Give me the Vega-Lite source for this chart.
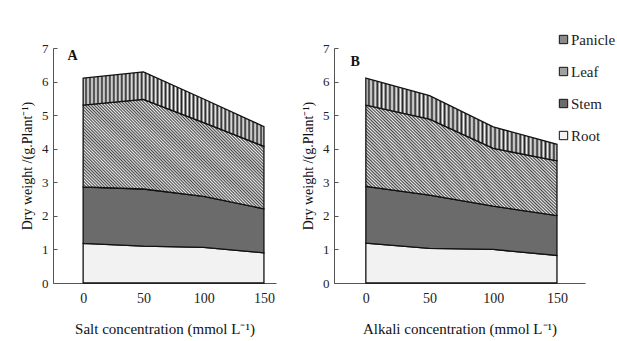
{
  "$schema": "https://vega.github.io/schema/vega-lite/v6.json",
  "background": "white",
  "padding": {"left": 20, "top": 32, "right": 2, "bottom": 2},
  "spacing": 25,
  "config": {
    "view": {"stroke": null},
    "font": "Liberation Serif",
    "axis": {"grid": false, "labelFont": "Liberation Serif", "titleFont": "Liberation Serif", "labelColor": "#222", "titleColor": "#111", "titleFontWeight": "normal", "domainColor": "#555", "tickColor": "#555", "labelOverlap": false},
    "axisY": {"tickSize": -4, "labelPadding": 9, "titlePadding": 7, "labelFontSize": 13, "titleFontSize": 14, "labelFont": "Liberation Serif"},
    "axisX": {"ticks": false, "labelPadding": 8, "titlePadding": 16, "labelFontSize": 14, "titleFontSize": 15, "labelFont": "Liberation Serif"},
    "legend": {"labelFont": "Liberation Serif", "labelFontSize": 15}
  },
  "datasets": {
    "salt": [
      {"c": 0, "part": "Root", "w": 1.18, "o": 1},
      {"c": 0, "part": "Stem", "w": 1.68, "o": 2},
      {"c": 0, "part": "Leaf", "w": 2.44, "o": 3},
      {"c": 0, "part": "Panicle", "w": 0.80, "o": 4},
      {"c": 50, "part": "Root", "w": 1.10, "o": 1},
      {"c": 50, "part": "Stem", "w": 1.70, "o": 2},
      {"c": 50, "part": "Leaf", "w": 2.67, "o": 3},
      {"c": 50, "part": "Panicle", "w": 0.82, "o": 4},
      {"c": 100, "part": "Root", "w": 1.06, "o": 1},
      {"c": 100, "part": "Stem", "w": 1.52, "o": 2},
      {"c": 100, "part": "Leaf", "w": 2.20, "o": 3},
      {"c": 100, "part": "Panicle", "w": 0.70, "o": 4},
      {"c": 150, "part": "Root", "w": 0.90, "o": 1},
      {"c": 150, "part": "Stem", "w": 1.31, "o": 2},
      {"c": 150, "part": "Leaf", "w": 1.86, "o": 3},
      {"c": 150, "part": "Panicle", "w": 0.59, "o": 4}
    ],
    "alkali": [
      {"c": 0, "part": "Root", "w": 1.19, "o": 1},
      {"c": 0, "part": "Stem", "w": 1.69, "o": 2},
      {"c": 0, "part": "Leaf", "w": 2.42, "o": 3},
      {"c": 0, "part": "Panicle", "w": 0.80, "o": 4},
      {"c": 50, "part": "Root", "w": 1.03, "o": 1},
      {"c": 50, "part": "Stem", "w": 1.59, "o": 2},
      {"c": 50, "part": "Leaf", "w": 2.26, "o": 3},
      {"c": 50, "part": "Panicle", "w": 0.70, "o": 4},
      {"c": 100, "part": "Root", "w": 1.00, "o": 1},
      {"c": 100, "part": "Stem", "w": 1.29, "o": 2},
      {"c": 100, "part": "Leaf", "w": 1.72, "o": 3},
      {"c": 100, "part": "Panicle", "w": 0.64, "o": 4},
      {"c": 150, "part": "Root", "w": 0.82, "o": 1},
      {"c": 150, "part": "Stem", "w": 1.19, "o": 2},
      {"c": 150, "part": "Leaf", "w": 1.63, "o": 3},
      {"c": 150, "part": "Panicle", "w": 0.49, "o": 4}
    ]
  },
  "hconcat": [
    {
      "width": 223,
      "height": 235,
      "data": {"name": "salt"},
      "layer": [
        {
          "mark": {"type": "area", "stroke": "#111", "strokeWidth": 1.3, "interpolate": "linear"},
          "encoding": {
            "x": {"field": "c", "type": "quantitative", "scale": {"domain": [-25, 160], "nice": false, "zero": false}, "axis": {"values": [0, 50, 100, 150], "labelFont": "Liberation Serif", "title": "Salt concentration (mmol L⁻¹)"}},
            "y": {"field": "w", "type": "quantitative", "stack": "zero", "scale": {"domain": [0, 7], "nice": false}, "axis": {"values": [0, 1, 2, 3, 4, 5, 6, 7], "tickCount": 8, "labelOverlap": false, "labelBound": false, "labelFont": "Liberation Serif", "title": "Dry weight /(g.Plant⁻¹)"}},
            "order": {"field": "o", "type": "quantitative"},
            "detail": {"field": "part", "type": "nominal"},
            "fill": {
              "condition": [
                {"test": "datum.part === 'Panicle'", "value": {"gradient": "linear", "x1": -0.05, "y1": 0, "x2": 1.05, "y2": 0, "stops": [
                  {"offset":0,"color":"#222"},{"offset":0.01,"color":"#f5f5f5"},{"offset":0.02,"color":"#222"},{"offset":0.03,"color":"#f5f5f5"},{"offset":0.04,"color":"#222"},{"offset":0.05,"color":"#f5f5f5"},{"offset":0.06,"color":"#222"},{"offset":0.07,"color":"#f5f5f5"},{"offset":0.08,"color":"#222"},{"offset":0.09,"color":"#f5f5f5"},
                  {"offset":0.1,"color":"#222"},{"offset":0.11,"color":"#f5f5f5"},{"offset":0.12,"color":"#222"},{"offset":0.13,"color":"#f5f5f5"},{"offset":0.14,"color":"#222"},{"offset":0.15,"color":"#f5f5f5"},{"offset":0.16,"color":"#222"},{"offset":0.17,"color":"#f5f5f5"},{"offset":0.18,"color":"#222"},{"offset":0.19,"color":"#f5f5f5"},
                  {"offset":0.2,"color":"#222"},{"offset":0.21,"color":"#f5f5f5"},{"offset":0.22,"color":"#222"},{"offset":0.23,"color":"#f5f5f5"},{"offset":0.24,"color":"#222"},{"offset":0.25,"color":"#f5f5f5"},{"offset":0.26,"color":"#222"},{"offset":0.27,"color":"#f5f5f5"},{"offset":0.28,"color":"#222"},{"offset":0.29,"color":"#f5f5f5"},
                  {"offset":0.3,"color":"#222"},{"offset":0.31,"color":"#f5f5f5"},{"offset":0.32,"color":"#222"},{"offset":0.33,"color":"#f5f5f5"},{"offset":0.34,"color":"#222"},{"offset":0.35,"color":"#f5f5f5"},{"offset":0.36,"color":"#222"},{"offset":0.37,"color":"#f5f5f5"},{"offset":0.38,"color":"#222"},{"offset":0.39,"color":"#f5f5f5"},
                  {"offset":0.4,"color":"#222"},{"offset":0.41,"color":"#f5f5f5"},{"offset":0.42,"color":"#222"},{"offset":0.43,"color":"#f5f5f5"},{"offset":0.44,"color":"#222"},{"offset":0.45,"color":"#f5f5f5"},{"offset":0.46,"color":"#222"},{"offset":0.47,"color":"#f5f5f5"},{"offset":0.48,"color":"#222"},{"offset":0.49,"color":"#f5f5f5"},
                  {"offset":0.5,"color":"#222"},{"offset":0.51,"color":"#f5f5f5"},{"offset":0.52,"color":"#222"},{"offset":0.53,"color":"#f5f5f5"},{"offset":0.54,"color":"#222"},{"offset":0.55,"color":"#f5f5f5"},{"offset":0.56,"color":"#222"},{"offset":0.57,"color":"#f5f5f5"},{"offset":0.58,"color":"#222"},{"offset":0.59,"color":"#f5f5f5"},
                  {"offset":0.6,"color":"#222"},{"offset":0.61,"color":"#f5f5f5"},{"offset":0.62,"color":"#222"},{"offset":0.63,"color":"#f5f5f5"},{"offset":0.64,"color":"#222"},{"offset":0.65,"color":"#f5f5f5"},{"offset":0.66,"color":"#222"},{"offset":0.67,"color":"#f5f5f5"},{"offset":0.68,"color":"#222"},{"offset":0.69,"color":"#f5f5f5"},
                  {"offset":0.7,"color":"#222"},{"offset":0.71,"color":"#f5f5f5"},{"offset":0.72,"color":"#222"},{"offset":0.73,"color":"#f5f5f5"},{"offset":0.74,"color":"#222"},{"offset":0.75,"color":"#f5f5f5"},{"offset":0.76,"color":"#222"},{"offset":0.77,"color":"#f5f5f5"},{"offset":0.78,"color":"#222"},{"offset":0.79,"color":"#f5f5f5"},
                  {"offset":0.8,"color":"#222"},{"offset":0.81,"color":"#f5f5f5"},{"offset":0.82,"color":"#222"},{"offset":0.83,"color":"#f5f5f5"},{"offset":0.84,"color":"#222"},{"offset":0.85,"color":"#f5f5f5"},{"offset":0.86,"color":"#222"},{"offset":0.87,"color":"#f5f5f5"},{"offset":0.88,"color":"#222"},{"offset":0.89,"color":"#f5f5f5"},
                  {"offset":0.9,"color":"#222"},{"offset":0.91,"color":"#f5f5f5"},{"offset":0.92,"color":"#222"},{"offset":0.93,"color":"#f5f5f5"},{"offset":0.94,"color":"#222"},{"offset":0.95,"color":"#f5f5f5"},{"offset":0.96,"color":"#222"},{"offset":0.97,"color":"#f5f5f5"},{"offset":0.98,"color":"#222"},{"offset":0.99,"color":"#f5f5f5"},{"offset":1,"color":"#222"}
                ]}},
                {"test": "datum.part === 'Leaf'", "value": {"gradient": "linear", "x1": -0.125, "y1": 0.875, "x2": 1.125, "y2": 0.125, "stops": [
                  {"offset":0,"color":"#444"},{"offset":0.005,"color":"#eee"},{"offset":0.01,"color":"#444"},{"offset":0.015,"color":"#eee"},{"offset":0.02,"color":"#444"},{"offset":0.025,"color":"#eee"},{"offset":0.03,"color":"#444"},{"offset":0.035,"color":"#eee"},{"offset":0.04,"color":"#444"},{"offset":0.045,"color":"#eee"},
                  {"offset":0.05,"color":"#444"},{"offset":0.055,"color":"#eee"},{"offset":0.06,"color":"#444"},{"offset":0.065,"color":"#eee"},{"offset":0.07,"color":"#444"},{"offset":0.075,"color":"#eee"},{"offset":0.08,"color":"#444"},{"offset":0.085,"color":"#eee"},{"offset":0.09,"color":"#444"},{"offset":0.095,"color":"#eee"},
                  {"offset":0.1,"color":"#444"},{"offset":0.105,"color":"#eee"},{"offset":0.11,"color":"#444"},{"offset":0.115,"color":"#eee"},{"offset":0.12,"color":"#444"},{"offset":0.125,"color":"#eee"},{"offset":0.13,"color":"#444"},{"offset":0.135,"color":"#eee"},{"offset":0.14,"color":"#444"},{"offset":0.145,"color":"#eee"},
                  {"offset":0.15,"color":"#444"},{"offset":0.155,"color":"#eee"},{"offset":0.16,"color":"#444"},{"offset":0.165,"color":"#eee"},{"offset":0.17,"color":"#444"},{"offset":0.175,"color":"#eee"},{"offset":0.18,"color":"#444"},{"offset":0.185,"color":"#eee"},{"offset":0.19,"color":"#444"},{"offset":0.195,"color":"#eee"},
                  {"offset":0.2,"color":"#444"},{"offset":0.205,"color":"#eee"},{"offset":0.21,"color":"#444"},{"offset":0.215,"color":"#eee"},{"offset":0.22,"color":"#444"},{"offset":0.225,"color":"#eee"},{"offset":0.23,"color":"#444"},{"offset":0.235,"color":"#eee"},{"offset":0.24,"color":"#444"},{"offset":0.245,"color":"#eee"},
                  {"offset":0.25,"color":"#444"},{"offset":0.255,"color":"#eee"},{"offset":0.26,"color":"#444"},{"offset":0.265,"color":"#eee"},{"offset":0.27,"color":"#444"},{"offset":0.275,"color":"#eee"},{"offset":0.28,"color":"#444"},{"offset":0.285,"color":"#eee"},{"offset":0.29,"color":"#444"},{"offset":0.295,"color":"#eee"},
                  {"offset":0.3,"color":"#444"},{"offset":0.305,"color":"#eee"},{"offset":0.31,"color":"#444"},{"offset":0.315,"color":"#eee"},{"offset":0.32,"color":"#444"},{"offset":0.325,"color":"#eee"},{"offset":0.33,"color":"#444"},{"offset":0.335,"color":"#eee"},{"offset":0.34,"color":"#444"},{"offset":0.345,"color":"#eee"},
                  {"offset":0.35,"color":"#444"},{"offset":0.355,"color":"#eee"},{"offset":0.36,"color":"#444"},{"offset":0.365,"color":"#eee"},{"offset":0.37,"color":"#444"},{"offset":0.375,"color":"#eee"},{"offset":0.38,"color":"#444"},{"offset":0.385,"color":"#eee"},{"offset":0.39,"color":"#444"},{"offset":0.395,"color":"#eee"},
                  {"offset":0.4,"color":"#444"},{"offset":0.405,"color":"#eee"},{"offset":0.41,"color":"#444"},{"offset":0.415,"color":"#eee"},{"offset":0.42,"color":"#444"},{"offset":0.425,"color":"#eee"},{"offset":0.43,"color":"#444"},{"offset":0.435,"color":"#eee"},{"offset":0.44,"color":"#444"},{"offset":0.445,"color":"#eee"},
                  {"offset":0.45,"color":"#444"},{"offset":0.455,"color":"#eee"},{"offset":0.46,"color":"#444"},{"offset":0.465,"color":"#eee"},{"offset":0.47,"color":"#444"},{"offset":0.475,"color":"#eee"},{"offset":0.48,"color":"#444"},{"offset":0.485,"color":"#eee"},{"offset":0.49,"color":"#444"},{"offset":0.495,"color":"#eee"},
                  {"offset":0.5,"color":"#444"},{"offset":0.505,"color":"#eee"},{"offset":0.51,"color":"#444"},{"offset":0.515,"color":"#eee"},{"offset":0.52,"color":"#444"},{"offset":0.525,"color":"#eee"},{"offset":0.53,"color":"#444"},{"offset":0.535,"color":"#eee"},{"offset":0.54,"color":"#444"},{"offset":0.545,"color":"#eee"},
                  {"offset":0.55,"color":"#444"},{"offset":0.555,"color":"#eee"},{"offset":0.56,"color":"#444"},{"offset":0.565,"color":"#eee"},{"offset":0.57,"color":"#444"},{"offset":0.575,"color":"#eee"},{"offset":0.58,"color":"#444"},{"offset":0.585,"color":"#eee"},{"offset":0.59,"color":"#444"},{"offset":0.595,"color":"#eee"},
                  {"offset":0.6,"color":"#444"},{"offset":0.605,"color":"#eee"},{"offset":0.61,"color":"#444"},{"offset":0.615,"color":"#eee"},{"offset":0.62,"color":"#444"},{"offset":0.625,"color":"#eee"},{"offset":0.63,"color":"#444"},{"offset":0.635,"color":"#eee"},{"offset":0.64,"color":"#444"},{"offset":0.645,"color":"#eee"},
                  {"offset":0.65,"color":"#444"},{"offset":0.655,"color":"#eee"},{"offset":0.66,"color":"#444"},{"offset":0.665,"color":"#eee"},{"offset":0.67,"color":"#444"},{"offset":0.675,"color":"#eee"},{"offset":0.68,"color":"#444"},{"offset":0.685,"color":"#eee"},{"offset":0.69,"color":"#444"},{"offset":0.695,"color":"#eee"},
                  {"offset":0.7,"color":"#444"},{"offset":0.705,"color":"#eee"},{"offset":0.71,"color":"#444"},{"offset":0.715,"color":"#eee"},{"offset":0.72,"color":"#444"},{"offset":0.725,"color":"#eee"},{"offset":0.73,"color":"#444"},{"offset":0.735,"color":"#eee"},{"offset":0.74,"color":"#444"},{"offset":0.745,"color":"#eee"},
                  {"offset":0.75,"color":"#444"},{"offset":0.755,"color":"#eee"},{"offset":0.76,"color":"#444"},{"offset":0.765,"color":"#eee"},{"offset":0.77,"color":"#444"},{"offset":0.775,"color":"#eee"},{"offset":0.78,"color":"#444"},{"offset":0.785,"color":"#eee"},{"offset":0.79,"color":"#444"},{"offset":0.795,"color":"#eee"},
                  {"offset":0.8,"color":"#444"},{"offset":0.805,"color":"#eee"},{"offset":0.81,"color":"#444"},{"offset":0.815,"color":"#eee"},{"offset":0.82,"color":"#444"},{"offset":0.825,"color":"#eee"},{"offset":0.83,"color":"#444"},{"offset":0.835,"color":"#eee"},{"offset":0.84,"color":"#444"},{"offset":0.845,"color":"#eee"},
                  {"offset":0.85,"color":"#444"},{"offset":0.855,"color":"#eee"},{"offset":0.86,"color":"#444"},{"offset":0.865,"color":"#eee"},{"offset":0.87,"color":"#444"},{"offset":0.875,"color":"#eee"},{"offset":0.88,"color":"#444"},{"offset":0.885,"color":"#eee"},{"offset":0.89,"color":"#444"},{"offset":0.895,"color":"#eee"},
                  {"offset":0.9,"color":"#444"},{"offset":0.905,"color":"#eee"},{"offset":0.91,"color":"#444"},{"offset":0.915,"color":"#eee"},{"offset":0.92,"color":"#444"},{"offset":0.925,"color":"#eee"},{"offset":0.93,"color":"#444"},{"offset":0.935,"color":"#eee"},{"offset":0.94,"color":"#444"},{"offset":0.945,"color":"#eee"},
                  {"offset":0.95,"color":"#444"},{"offset":0.955,"color":"#eee"},{"offset":0.96,"color":"#444"},{"offset":0.965,"color":"#eee"},{"offset":0.97,"color":"#444"},{"offset":0.975,"color":"#eee"},{"offset":0.98,"color":"#444"},{"offset":0.985,"color":"#eee"},{"offset":0.99,"color":"#444"},{"offset":0.995,"color":"#eee"},{"offset":1,"color":"#444"}
                ]}},
                {"test": "datum.part === 'Stem'", "value": "#6b6b6b"}
              ],
              "value": "#f2f2f2"
            }
          }
        },
        {
          "data": {"values": [{}]},
          "mark": {"type": "text", "font": "Liberation Serif", "fontWeight": "bold", "fontSize": 14, "align": "left", "baseline": "middle", "color": "#111"},
          "encoding": {"x": {"datum": -13}, "y": {"datum": 6.75}, "text": {"value": "A"}}
        }
      ]
    },
    {
      "width": 251,
      "height": 235,
      "data": {"name": "alkali"},
      "layer": [
        {
          "mark": {"type": "area", "stroke": "#111", "strokeWidth": 1.3, "interpolate": "linear"},
          "encoding": {
            "x": {"field": "c", "type": "quantitative", "scale": {"domain": [-25, 172], "nice": false, "zero": false}, "axis": {"values": [0, 50, 100, 150], "labelFont": "Liberation Serif", "title": "Alkali concentration (mmol L⁻¹)"}},
            "y": {"field": "w", "type": "quantitative", "stack": "zero", "scale": {"domain": [0, 7], "nice": false}, "axis": {"values": [0, 1, 2, 3, 4, 5, 6, 7], "tickCount": 8, "labelOverlap": false, "labelBound": false, "labelFont": "Liberation Serif", "title": "Dry weight /(g.Plant⁻¹)"}},
            "order": {"field": "o", "type": "quantitative"},
            "detail": {"field": "part", "type": "nominal"},
            "fill": {
              "condition": [
                {"test": "datum.part === 'Panicle'", "value": {"gradient": "linear", "x1": -0.05, "y1": 0, "x2": 1.05, "y2": 0, "stops": [
                  {"offset":0,"color":"#222"},{"offset":0.01,"color":"#f5f5f5"},{"offset":0.02,"color":"#222"},{"offset":0.03,"color":"#f5f5f5"},{"offset":0.04,"color":"#222"},{"offset":0.05,"color":"#f5f5f5"},{"offset":0.06,"color":"#222"},{"offset":0.07,"color":"#f5f5f5"},{"offset":0.08,"color":"#222"},{"offset":0.09,"color":"#f5f5f5"},
                  {"offset":0.1,"color":"#222"},{"offset":0.11,"color":"#f5f5f5"},{"offset":0.12,"color":"#222"},{"offset":0.13,"color":"#f5f5f5"},{"offset":0.14,"color":"#222"},{"offset":0.15,"color":"#f5f5f5"},{"offset":0.16,"color":"#222"},{"offset":0.17,"color":"#f5f5f5"},{"offset":0.18,"color":"#222"},{"offset":0.19,"color":"#f5f5f5"},
                  {"offset":0.2,"color":"#222"},{"offset":0.21,"color":"#f5f5f5"},{"offset":0.22,"color":"#222"},{"offset":0.23,"color":"#f5f5f5"},{"offset":0.24,"color":"#222"},{"offset":0.25,"color":"#f5f5f5"},{"offset":0.26,"color":"#222"},{"offset":0.27,"color":"#f5f5f5"},{"offset":0.28,"color":"#222"},{"offset":0.29,"color":"#f5f5f5"},
                  {"offset":0.3,"color":"#222"},{"offset":0.31,"color":"#f5f5f5"},{"offset":0.32,"color":"#222"},{"offset":0.33,"color":"#f5f5f5"},{"offset":0.34,"color":"#222"},{"offset":0.35,"color":"#f5f5f5"},{"offset":0.36,"color":"#222"},{"offset":0.37,"color":"#f5f5f5"},{"offset":0.38,"color":"#222"},{"offset":0.39,"color":"#f5f5f5"},
                  {"offset":0.4,"color":"#222"},{"offset":0.41,"color":"#f5f5f5"},{"offset":0.42,"color":"#222"},{"offset":0.43,"color":"#f5f5f5"},{"offset":0.44,"color":"#222"},{"offset":0.45,"color":"#f5f5f5"},{"offset":0.46,"color":"#222"},{"offset":0.47,"color":"#f5f5f5"},{"offset":0.48,"color":"#222"},{"offset":0.49,"color":"#f5f5f5"},
                  {"offset":0.5,"color":"#222"},{"offset":0.51,"color":"#f5f5f5"},{"offset":0.52,"color":"#222"},{"offset":0.53,"color":"#f5f5f5"},{"offset":0.54,"color":"#222"},{"offset":0.55,"color":"#f5f5f5"},{"offset":0.56,"color":"#222"},{"offset":0.57,"color":"#f5f5f5"},{"offset":0.58,"color":"#222"},{"offset":0.59,"color":"#f5f5f5"},
                  {"offset":0.6,"color":"#222"},{"offset":0.61,"color":"#f5f5f5"},{"offset":0.62,"color":"#222"},{"offset":0.63,"color":"#f5f5f5"},{"offset":0.64,"color":"#222"},{"offset":0.65,"color":"#f5f5f5"},{"offset":0.66,"color":"#222"},{"offset":0.67,"color":"#f5f5f5"},{"offset":0.68,"color":"#222"},{"offset":0.69,"color":"#f5f5f5"},
                  {"offset":0.7,"color":"#222"},{"offset":0.71,"color":"#f5f5f5"},{"offset":0.72,"color":"#222"},{"offset":0.73,"color":"#f5f5f5"},{"offset":0.74,"color":"#222"},{"offset":0.75,"color":"#f5f5f5"},{"offset":0.76,"color":"#222"},{"offset":0.77,"color":"#f5f5f5"},{"offset":0.78,"color":"#222"},{"offset":0.79,"color":"#f5f5f5"},
                  {"offset":0.8,"color":"#222"},{"offset":0.81,"color":"#f5f5f5"},{"offset":0.82,"color":"#222"},{"offset":0.83,"color":"#f5f5f5"},{"offset":0.84,"color":"#222"},{"offset":0.85,"color":"#f5f5f5"},{"offset":0.86,"color":"#222"},{"offset":0.87,"color":"#f5f5f5"},{"offset":0.88,"color":"#222"},{"offset":0.89,"color":"#f5f5f5"},
                  {"offset":0.9,"color":"#222"},{"offset":0.91,"color":"#f5f5f5"},{"offset":0.92,"color":"#222"},{"offset":0.93,"color":"#f5f5f5"},{"offset":0.94,"color":"#222"},{"offset":0.95,"color":"#f5f5f5"},{"offset":0.96,"color":"#222"},{"offset":0.97,"color":"#f5f5f5"},{"offset":0.98,"color":"#222"},{"offset":0.99,"color":"#f5f5f5"},{"offset":1,"color":"#222"}
                ]}},
                {"test": "datum.part === 'Leaf'", "value": {"gradient": "linear", "x1": -0.125, "y1": 0.875, "x2": 1.125, "y2": 0.125, "stops": [
                  {"offset":0,"color":"#444"},{"offset":0.005,"color":"#eee"},{"offset":0.01,"color":"#444"},{"offset":0.015,"color":"#eee"},{"offset":0.02,"color":"#444"},{"offset":0.025,"color":"#eee"},{"offset":0.03,"color":"#444"},{"offset":0.035,"color":"#eee"},{"offset":0.04,"color":"#444"},{"offset":0.045,"color":"#eee"},
                  {"offset":0.05,"color":"#444"},{"offset":0.055,"color":"#eee"},{"offset":0.06,"color":"#444"},{"offset":0.065,"color":"#eee"},{"offset":0.07,"color":"#444"},{"offset":0.075,"color":"#eee"},{"offset":0.08,"color":"#444"},{"offset":0.085,"color":"#eee"},{"offset":0.09,"color":"#444"},{"offset":0.095,"color":"#eee"},
                  {"offset":0.1,"color":"#444"},{"offset":0.105,"color":"#eee"},{"offset":0.11,"color":"#444"},{"offset":0.115,"color":"#eee"},{"offset":0.12,"color":"#444"},{"offset":0.125,"color":"#eee"},{"offset":0.13,"color":"#444"},{"offset":0.135,"color":"#eee"},{"offset":0.14,"color":"#444"},{"offset":0.145,"color":"#eee"},
                  {"offset":0.15,"color":"#444"},{"offset":0.155,"color":"#eee"},{"offset":0.16,"color":"#444"},{"offset":0.165,"color":"#eee"},{"offset":0.17,"color":"#444"},{"offset":0.175,"color":"#eee"},{"offset":0.18,"color":"#444"},{"offset":0.185,"color":"#eee"},{"offset":0.19,"color":"#444"},{"offset":0.195,"color":"#eee"},
                  {"offset":0.2,"color":"#444"},{"offset":0.205,"color":"#eee"},{"offset":0.21,"color":"#444"},{"offset":0.215,"color":"#eee"},{"offset":0.22,"color":"#444"},{"offset":0.225,"color":"#eee"},{"offset":0.23,"color":"#444"},{"offset":0.235,"color":"#eee"},{"offset":0.24,"color":"#444"},{"offset":0.245,"color":"#eee"},
                  {"offset":0.25,"color":"#444"},{"offset":0.255,"color":"#eee"},{"offset":0.26,"color":"#444"},{"offset":0.265,"color":"#eee"},{"offset":0.27,"color":"#444"},{"offset":0.275,"color":"#eee"},{"offset":0.28,"color":"#444"},{"offset":0.285,"color":"#eee"},{"offset":0.29,"color":"#444"},{"offset":0.295,"color":"#eee"},
                  {"offset":0.3,"color":"#444"},{"offset":0.305,"color":"#eee"},{"offset":0.31,"color":"#444"},{"offset":0.315,"color":"#eee"},{"offset":0.32,"color":"#444"},{"offset":0.325,"color":"#eee"},{"offset":0.33,"color":"#444"},{"offset":0.335,"color":"#eee"},{"offset":0.34,"color":"#444"},{"offset":0.345,"color":"#eee"},
                  {"offset":0.35,"color":"#444"},{"offset":0.355,"color":"#eee"},{"offset":0.36,"color":"#444"},{"offset":0.365,"color":"#eee"},{"offset":0.37,"color":"#444"},{"offset":0.375,"color":"#eee"},{"offset":0.38,"color":"#444"},{"offset":0.385,"color":"#eee"},{"offset":0.39,"color":"#444"},{"offset":0.395,"color":"#eee"},
                  {"offset":0.4,"color":"#444"},{"offset":0.405,"color":"#eee"},{"offset":0.41,"color":"#444"},{"offset":0.415,"color":"#eee"},{"offset":0.42,"color":"#444"},{"offset":0.425,"color":"#eee"},{"offset":0.43,"color":"#444"},{"offset":0.435,"color":"#eee"},{"offset":0.44,"color":"#444"},{"offset":0.445,"color":"#eee"},
                  {"offset":0.45,"color":"#444"},{"offset":0.455,"color":"#eee"},{"offset":0.46,"color":"#444"},{"offset":0.465,"color":"#eee"},{"offset":0.47,"color":"#444"},{"offset":0.475,"color":"#eee"},{"offset":0.48,"color":"#444"},{"offset":0.485,"color":"#eee"},{"offset":0.49,"color":"#444"},{"offset":0.495,"color":"#eee"},
                  {"offset":0.5,"color":"#444"},{"offset":0.505,"color":"#eee"},{"offset":0.51,"color":"#444"},{"offset":0.515,"color":"#eee"},{"offset":0.52,"color":"#444"},{"offset":0.525,"color":"#eee"},{"offset":0.53,"color":"#444"},{"offset":0.535,"color":"#eee"},{"offset":0.54,"color":"#444"},{"offset":0.545,"color":"#eee"},
                  {"offset":0.55,"color":"#444"},{"offset":0.555,"color":"#eee"},{"offset":0.56,"color":"#444"},{"offset":0.565,"color":"#eee"},{"offset":0.57,"color":"#444"},{"offset":0.575,"color":"#eee"},{"offset":0.58,"color":"#444"},{"offset":0.585,"color":"#eee"},{"offset":0.59,"color":"#444"},{"offset":0.595,"color":"#eee"},
                  {"offset":0.6,"color":"#444"},{"offset":0.605,"color":"#eee"},{"offset":0.61,"color":"#444"},{"offset":0.615,"color":"#eee"},{"offset":0.62,"color":"#444"},{"offset":0.625,"color":"#eee"},{"offset":0.63,"color":"#444"},{"offset":0.635,"color":"#eee"},{"offset":0.64,"color":"#444"},{"offset":0.645,"color":"#eee"},
                  {"offset":0.65,"color":"#444"},{"offset":0.655,"color":"#eee"},{"offset":0.66,"color":"#444"},{"offset":0.665,"color":"#eee"},{"offset":0.67,"color":"#444"},{"offset":0.675,"color":"#eee"},{"offset":0.68,"color":"#444"},{"offset":0.685,"color":"#eee"},{"offset":0.69,"color":"#444"},{"offset":0.695,"color":"#eee"},
                  {"offset":0.7,"color":"#444"},{"offset":0.705,"color":"#eee"},{"offset":0.71,"color":"#444"},{"offset":0.715,"color":"#eee"},{"offset":0.72,"color":"#444"},{"offset":0.725,"color":"#eee"},{"offset":0.73,"color":"#444"},{"offset":0.735,"color":"#eee"},{"offset":0.74,"color":"#444"},{"offset":0.745,"color":"#eee"},
                  {"offset":0.75,"color":"#444"},{"offset":0.755,"color":"#eee"},{"offset":0.76,"color":"#444"},{"offset":0.765,"color":"#eee"},{"offset":0.77,"color":"#444"},{"offset":0.775,"color":"#eee"},{"offset":0.78,"color":"#444"},{"offset":0.785,"color":"#eee"},{"offset":0.79,"color":"#444"},{"offset":0.795,"color":"#eee"},
                  {"offset":0.8,"color":"#444"},{"offset":0.805,"color":"#eee"},{"offset":0.81,"color":"#444"},{"offset":0.815,"color":"#eee"},{"offset":0.82,"color":"#444"},{"offset":0.825,"color":"#eee"},{"offset":0.83,"color":"#444"},{"offset":0.835,"color":"#eee"},{"offset":0.84,"color":"#444"},{"offset":0.845,"color":"#eee"},
                  {"offset":0.85,"color":"#444"},{"offset":0.855,"color":"#eee"},{"offset":0.86,"color":"#444"},{"offset":0.865,"color":"#eee"},{"offset":0.87,"color":"#444"},{"offset":0.875,"color":"#eee"},{"offset":0.88,"color":"#444"},{"offset":0.885,"color":"#eee"},{"offset":0.89,"color":"#444"},{"offset":0.895,"color":"#eee"},
                  {"offset":0.9,"color":"#444"},{"offset":0.905,"color":"#eee"},{"offset":0.91,"color":"#444"},{"offset":0.915,"color":"#eee"},{"offset":0.92,"color":"#444"},{"offset":0.925,"color":"#eee"},{"offset":0.93,"color":"#444"},{"offset":0.935,"color":"#eee"},{"offset":0.94,"color":"#444"},{"offset":0.945,"color":"#eee"},
                  {"offset":0.95,"color":"#444"},{"offset":0.955,"color":"#eee"},{"offset":0.96,"color":"#444"},{"offset":0.965,"color":"#eee"},{"offset":0.97,"color":"#444"},{"offset":0.975,"color":"#eee"},{"offset":0.98,"color":"#444"},{"offset":0.985,"color":"#eee"},{"offset":0.99,"color":"#444"},{"offset":0.995,"color":"#eee"},{"offset":1,"color":"#444"}
                ]}},
                {"test": "datum.part === 'Stem'", "value": "#6b6b6b"}
              ],
              "value": "#f2f2f2"
            }
          }
        },
        {
          "mark": {"type": "square", "opacity": 0},
          "encoding": {
            "x": {"field": "c", "type": "quantitative", "scale": {"domain": [-25, 172], "nice": false, "zero": false}},
            "y": {"field": "w", "type": "quantitative", "scale": {"domain": [0, 7], "nice": false}},
            "color": {
              "field": "part", "type": "nominal",
              "legend": {"orient": "none", "legendX": 503, "legendY": -16, "title": null, "symbolType": "square", "symbolSize": 70, "symbolOpacity": 1, "symbolStrokeColor": "#111", "symbolStrokeWidth": 1, "labelFont": "Liberation Serif", "labelFontSize": 15, "labelColor": "#222", "labelOffset": 0, "rowPadding": 16},
              "scale": {"domain": ["Panicle", "Leaf", "Stem", "Root"], "range": ["#8a8a8a", "#a0a0a0", "#6b6b6b", "#f2f2f2"]}
            }
          }
        },
        {
          "data": {"values": [{}]},
          "mark": {"type": "text", "font": "Liberation Serif", "fontWeight": "bold", "fontSize": 14, "align": "left", "baseline": "middle", "color": "#111"},
          "encoding": {"x": {"datum": -12}, "y": {"datum": 6.59}, "text": {"value": "B"}}
        }
      ]
    }
  ]
}
